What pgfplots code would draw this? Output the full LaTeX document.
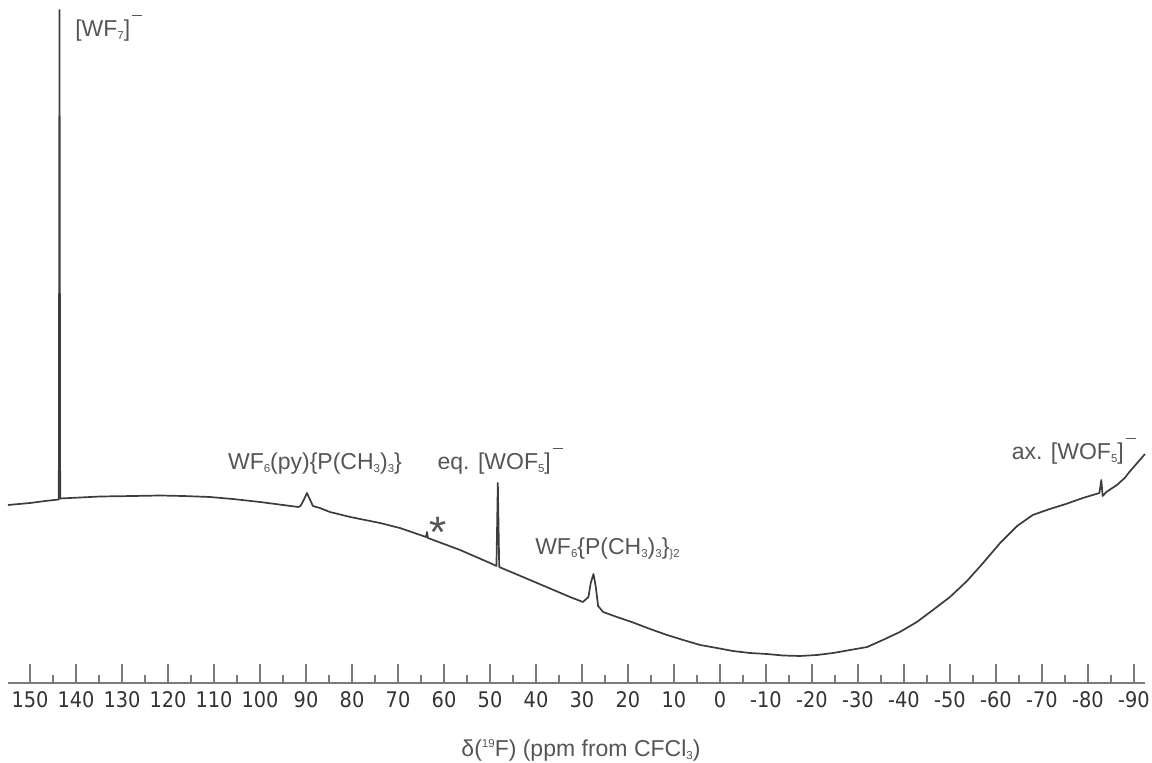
\documentclass[border=0pt]{standalone}
\usepackage{fontspec}
\setmainfont{Liberation Sans}
\newfontfamily\tickfont{DejaVu Sans Condensed}
\usepackage{pgfplots}
\usepackage{pgfplotstable}
\pgfplotsset{compat=1.18}
\definecolor{axisgray}{HTML}{7A7A7A}
\definecolor{tickgray}{HTML}{333333}
\definecolor{labgray}{HTML}{555555}
\definecolor{specgray}{HTML}{3C3C3C}
\newcommand\lab{\fontsize{23}{27}\selectfont}
\newcommand\sub[1]{\raisebox{-0.12em}{\fontsize{11.5}{12}\selectfont #1}}
\newcommand\sups[1]{\raisebox{0.42em}{\fontsize{11.5}{12}\selectfont #1}}
\newcommand\minusbar{\hspace{0.08em}\raisebox{0.9em}{\rule{0.45em}{0.06em}}}

\pgfplotstableread{
delta h
154.8 258
150.0 260
146.7 262
143.75 263.5
143.6 753
143.45 264.5
139.1 265.5
134.8 266.5
127.6 267
121.7 267.5
116.7 267
110.9 266
105.9 264
100.0 261
95.0 258
91.7 256
91.2 257
90.5 263
89.8 270
89.2 264
88.5 257
87.0 255
84.8 251
80.4 246
73.9 240
69.6 235
63.9 226
63.7 231
63.5 225
56.5 213
50.0 200
48.6 197
48.3 280
48.0 196
41.3 183
32.6 166
29.8 161
28.6 166
28.1 180
27.5 189
27.0 176
26.5 157
25.4 151
22.4 146
18.9 140.5
15.2 134
11.5 128
8.0 123
4.3 118
0.65 115
-2.8 112
-6.5 110
-10.2 109
-13.7 107.5
-17.4 107
-21.1 108
-24.6 110
-28.3 113
-32.0 116
-35.4 123
-39.1 131
-42.8 141
-46.3 153
-50.0 166
-53.7 182
-57.2 200
-60.9 220
-64.6 237
-68.0 248
-71.7 254
-75.2 259
-78.9 265
-82.5 270
-82.9 283
-83.2 267
-84.0 271
-86.3 278
-88.0 285
-89.0 291
-90.7 300
-92.4 309
}\spectrum

\begin{document}
\begin{tikzpicture}
\useasboundingbox (0,0) rectangle (1152pt,763pt);
\begin{axis}[
  at={(8pt,80pt)}, anchor=south west,
  scale only axis, width=1137pt, height=683pt,
  xmin=-92.4, xmax=154.8, ymin=80, ymax=763,
  x dir=reverse,
  axis x line=bottom, axis y line=none,
  axis line style={-, draw=axisgray, line width=2pt},
  tick align=inside,
  major tick length=19pt, minor tick length=8pt,
  minor x tick num=1,
  tick style={draw=axisgray, line width=1.3pt},
  xtick={-90,-80,-70,-60,-50,-40,-30,-20,-10,0,10,20,30,40,50,60,70,80,90,100,110,120,130,140,150},
  xticklabels={-90,-80,-70,-60,-50,-40,-30,-20,-10,0,10,20,30,40,50,60,70,80,90,100,110,120,130,140,150},
  x tick label style={anchor=base, yshift=-25pt, inner sep=0pt, text=tickgray,
    font=\tickfont\fontsize{21.5}{25}\selectfont},
  xlabel={δ(\sups{19}F) (ppm from CFCl\sub{3})},
  xlabel style={at={(axis description cs:0.5,0)}, anchor=base, yshift=-74pt, xshift=4.5pt,
    inner sep=0pt, text=labgray, font=\lab},
  clip=false,
]
\addplot[color=specgray, line width=1.7pt, line join=round] table[x=delta,y=h] {\spectrum};

\node[anchor=base west, inner sep=0pt, font=\lab, text=labgray] at (axis cs:140.2,726) {[WF\sub{7}]\minusbar};
\node[anchor=base west, inner sep=0pt, font=\lab, text=labgray] at (axis cs:107.0,293) {WF\sub{6}(py)\{P(CH\sub{3})\sub{3}\}};
\node[anchor=north, inner sep=0pt, font=\fontsize{44}{44}\selectfont, text=labgray] at (axis cs:61.3,246) {*};
\node[anchor=base west, inner sep=0pt, font=\lab, text=labgray] at (axis cs:61.45,293) {eq. [WOF\sub{5}]\minusbar};
\node[anchor=base west, inner sep=0pt, font=\lab, text=labgray] at (axis cs:40.2,208) {WF\sub{6}\{P(CH\sub{3})\sub{3}\}\sub{\}2}};
\node[anchor=base west, inner sep=0pt, font=\lab, text=labgray] at (axis cs:-63.4,303) {ax. [WOF\sub{5}]\minusbar};
\end{axis}
\end{tikzpicture}
\end{document}
